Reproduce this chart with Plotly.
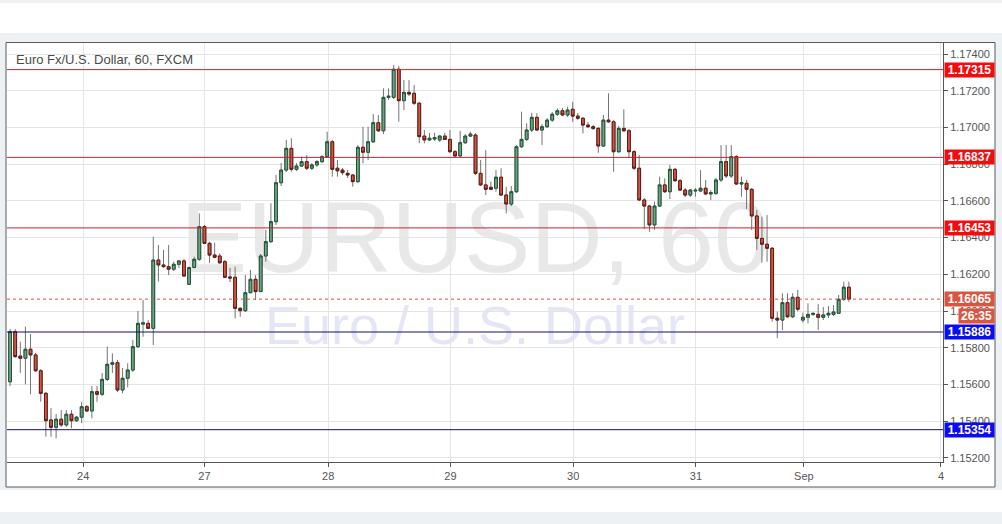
import plotly.graph_objects as go

# ---------------- data ----------------
bar_index = list(range(165))

open_ = [1.15615,1.15888,1.15755,1.15743,1.15792,1.15761,1.15675,1.15552,1.15407,1.15367,
         1.15411,1.15380,1.15438,1.15403,1.15422,1.15479,1.15456,1.15561,1.15547,1.15628,
         1.15710,1.15719,1.15570,1.15634,1.15679,1.15806,1.15929,1.15933,1.15906,1.16278,
         1.16251,1.16242,1.16228,1.16255,1.16273,1.16146,1.16237,1.16282,1.16460,1.16369,
         1.16305,1.16300,1.16269,1.16186,1.16184,1.16015,1.16002,1.16100,1.16173,1.16106,
         1.16300,1.16378,1.16487,1.16699,1.16768,1.16886,1.16772,1.16790,1.16814,1.16778,
         1.16796,1.16814,1.16841,1.16922,1.16778,1.16768,1.16750,1.16741,1.16705,1.16892,
         1.16865,1.16922,1.17026,1.16982,1.17164,1.17164,1.17317,1.17146,1.17191,1.17186,
         1.17132,1.16953,1.16932,1.16937,1.16932,1.16953,1.16935,1.16868,1.16845,1.16917,
         1.16953,1.16959,1.16750,1.16687,1.16674,1.16669,1.16729,1.16632,1.16583,1.16650,
         1.16895,1.16935,1.16986,1.17055,1.16986,1.17004,1.17040,1.17072,1.17091,1.17068,
         1.17099,1.17062,1.17050,1.17013,1.17004,1.16995,1.16899,1.17040,1.17031,1.16868,
         1.16995,1.16982,1.16868,1.16778,1.16605,1.16572,1.16469,1.16572,1.16687,1.16650,
         1.16772,1.16710,1.16659,1.16632,1.16654,1.16654,1.16669,1.16638,1.16641,1.16714,
         1.16814,1.16736,1.16841,1.16692,1.16696,1.16663,1.16518,1.16396,1.16364,1.16342,
         1.15961,1.15951,1.16046,1.15969,1.16075,1.15951,1.15966,1.15982,1.15982,1.15966,
         1.15979,1.15982,1.15988,1.16064,1.16130]

high = [1.15902,1.15902,1.15833,1.15915,1.15875,1.15772,1.15684,1.15559,1.15472,1.15439,
        1.15461,1.15461,1.15461,1.15429,1.15506,1.15488,1.15592,1.15592,1.15663,1.15806,
        1.15770,1.15734,1.15690,1.15716,1.15842,1.16000,1.16060,1.15951,1.16405,1.16360,
        1.16333,1.16360,1.16269,1.16278,1.16284,1.16242,1.16296,1.16532,1.16469,1.16378,
        1.16373,1.16314,1.16278,1.16235,1.16242,1.16022,1.16196,1.16224,1.16196,1.16311,
        1.16442,1.16587,1.16741,1.16806,1.16932,1.16941,1.16806,1.16841,1.16850,1.16806,
        1.16823,1.16850,1.16977,1.16932,1.16823,1.16779,1.16768,1.16746,1.16904,1.17004,
        1.17004,1.17073,1.17068,1.17213,1.17213,1.17340,1.17335,1.17258,1.17258,1.17231,
        1.17139,1.16986,1.16970,1.16971,1.16959,1.16970,1.16986,1.16877,1.16982,1.16964,
        1.16977,1.16968,1.16823,1.16877,1.16705,1.16768,1.16778,1.16677,1.16681,1.16904,
        1.17086,1.17023,1.17080,1.17077,1.17019,1.17051,1.17084,1.17104,1.17106,1.17113,
        1.17140,1.17079,1.17057,1.17030,1.17013,1.17002,1.17068,1.17186,1.17040,1.17008,
        1.17099,1.16992,1.16877,1.16850,1.16616,1.16578,1.16596,1.16732,1.16723,1.16796,
        1.16779,1.16719,1.16670,1.16665,1.16670,1.16768,1.16714,1.16659,1.16725,1.16904,
        1.16904,1.16904,1.16850,1.16732,1.16714,1.16670,1.16550,1.16514,1.16523,1.16349,
        1.15997,1.16097,1.16097,1.16097,1.16115,1.15991,1.16042,1.15995,1.16038,1.16022,
        1.16028,1.16033,1.16088,1.16160,1.16160]

low = [1.15592,1.15745,1.15664,1.15601,1.15547,1.15668,1.15506,1.15316,1.15316,1.15307,
       1.15369,1.15369,1.15362,1.15396,1.15389,1.15450,1.15416,1.15506,1.15537,1.15619,
       1.15663,1.15559,1.15552,1.15585,1.15668,1.15799,1.15860,1.15902,1.15815,1.16160,
       1.16235,1.16196,1.16218,1.16235,1.16186,1.16142,1.16235,1.16273,1.16365,1.16263,
       1.16289,1.16256,1.16180,1.16158,1.15960,1.15969,1.15995,1.16098,1.16060,1.16104,
       1.16269,1.16371,1.16469,1.16681,1.16757,1.16759,1.16763,1.16785,1.16768,1.16768,
       1.16785,1.16806,1.16834,1.16732,1.16732,1.16741,1.16725,1.16677,1.16697,1.16805,
       1.16823,1.16915,1.16975,1.16964,1.17150,1.17155,1.17031,1.17095,1.17171,1.17122,
       1.16914,1.16914,1.16926,1.16926,1.16921,1.16932,1.16861,1.16839,1.16839,1.16910,
       1.16948,1.16741,1.16681,1.16632,1.16659,1.16650,1.16627,1.16532,1.16572,1.16643,
       1.16888,1.16926,1.16975,1.16981,1.16904,1.16997,1.17030,1.17062,1.17062,1.17057,
       1.17031,1.17041,1.16968,1.16997,1.16986,1.16862,1.16894,1.17024,1.16759,1.16861,
       1.16975,1.16832,1.16768,1.16600,1.16447,1.16432,1.16442,1.16567,1.16643,1.16610,
       1.16703,1.16654,1.16621,1.16621,1.16623,1.16648,1.16632,1.16605,1.16632,1.16703,
       1.16725,1.16725,1.16687,1.16623,1.16556,1.16442,1.16333,1.16263,1.16269,1.15942,
       1.15852,1.15897,1.15962,1.15962,1.15999,1.15937,1.15933,1.15973,1.15897,1.15951,
       1.15962,1.15973,1.15984,1.16055,1.16050]

close = [1.15888,1.15752,1.15743,1.15792,1.15761,1.15675,1.15552,1.15403,1.15367,1.15411,
         1.15380,1.15438,1.15403,1.15422,1.15479,1.15456,1.15561,1.15547,1.15628,1.15710,
         1.15719,1.15570,1.15634,1.15679,1.15806,1.15933,1.15936,1.15906,1.16278,1.16251,
         1.16242,1.16228,1.16255,1.16273,1.16191,1.16237,1.16282,1.16460,1.16369,1.16305,
         1.16293,1.16263,1.16184,1.16180,1.16015,1.16002,1.16100,1.16173,1.16106,1.16300,
         1.16378,1.16487,1.16699,1.16768,1.16886,1.16772,1.16790,1.16814,1.16778,1.16796,
         1.16814,1.16841,1.16922,1.16772,1.16764,1.16754,1.16741,1.16705,1.16892,1.16865,
         1.16922,1.17026,1.16982,1.17164,1.17170,1.17317,1.17146,1.17191,1.17182,1.17132,
         1.16950,1.16932,1.16941,1.16945,1.16953,1.16935,1.16868,1.16845,1.16917,1.16953,
         1.16964,1.16750,1.16687,1.16663,1.16663,1.16729,1.16632,1.16583,1.16650,1.16895,
         1.16935,1.16986,1.17055,1.16986,1.17004,1.17040,1.17072,1.17091,1.17068,1.17095,
         1.17062,1.17050,1.17013,1.17004,1.16995,1.16899,1.17040,1.17031,1.16868,1.16995,
         1.16982,1.16868,1.16778,1.16605,1.16572,1.16469,1.16572,1.16687,1.16650,1.16772,
         1.16710,1.16659,1.16632,1.16659,1.16658,1.16669,1.16638,1.16645,1.16714,1.16814,
         1.16736,1.16841,1.16692,1.16699,1.16663,1.16518,1.16396,1.16364,1.16342,1.15961,
         1.15951,1.16046,1.15969,1.16075,1.16010,1.15966,1.15982,1.15987,1.15966,1.15979,
         1.15988,1.15995,1.16064,1.16130,1.16065]

day_tick_pos = [14.3, 38.0, 62.2, 86.1, 110.1, 134.1, 155.2, 182.0]
day_tick_labels = ["24", "27", "28", "29", "30", "31", "Sep", "4"]

price_ticks = [1.152, 1.154, 1.156, 1.158, 1.160, 1.162, 1.164, 1.166, 1.168, 1.170, 1.172, 1.174]

resistance_levels = [1.17315, 1.16837, 1.16453]
support_levels = [1.15886, 1.15354]
last_price = 1.16065
countdown = "26:35"

# ---------------- styling ----------------
FONT = "Liberation Sans, Arial, sans-serif"
UP_FILL, DN_FILL = "#6ba583", "#d75442"
UP_LINE, DN_LINE = "#225437", "#5b1a13"
WICK = "#737375"
RED_LINE, RED_BOX = "#c0282d", "#f20d0d"
BLUE_LINE, BLUE_BOX = "#10106e", "#0c0cf0"
LAST_COL = "#d9553f"
PAGE_BG = "#eef1f4"

W, H = 1002, 524
L, R, T, B = 7, 59, 43, 62
PW, PH = W - L - R, H - T - B


def px_x(px):
    return (px - L) / PW


def px_y(py):
    return (H - B - py) / PH


fig = go.Figure()

# wicks (full range, grey)
fig.add_trace(go.Candlestick(
    x=bar_index, open=open_, high=high, low=low, close=close,
    increasing=dict(line=dict(color=WICK, width=1), fillcolor=UP_FILL),
    decreasing=dict(line=dict(color=WICK, width=1), fillcolor=DN_FILL),
    whiskerwidth=0, hoverinfo="skip", showlegend=False,
))
# bodies with dark borders
body_hi = [max(o, c) for o, c in zip(open_, close)]
body_lo = [min(o, c) for o, c in zip(open_, close)]
fig.add_trace(go.Candlestick(
    x=bar_index, open=open_, high=body_hi, low=body_lo, close=close,
    increasing=dict(line=dict(color=UP_LINE, width=1), fillcolor=UP_FILL),
    decreasing=dict(line=dict(color=DN_LINE, width=1), fillcolor=DN_FILL),
    whiskerwidth=0, hoverinfo="skip", showlegend=False,
))

shapes = []
# page bands
shapes.append(dict(type="rect", xref="paper", yref="paper", layer="below",
                   x0=px_x(0), x1=px_x(W), y0=px_y(33), y1=px_y(3),
                   fillcolor="white", line=dict(width=0)))
shapes.append(dict(type="rect", xref="paper", yref="paper", layer="below",
                   x0=px_x(0), x1=px_x(W), y0=px_y(512), y1=px_y(490),
                   fillcolor="white", line=dict(width=0)))
# chart frame
shapes.append(dict(type="rect", xref="paper", yref="paper", layer="below",
                   x0=px_x(6), x1=px_x(995), y0=px_y(487), y1=px_y(42.5),
                   fillcolor="white", line=dict(color="#5a5a5a", width=1)))
# watermarks
shapes.append(dict(type="rect", xref="paper", yref="paper", layer="below",
                   x0=px_x(150), x1=px_x(800), y0=px_y(280), y1=px_y(175),
                   line=dict(width=0), fillcolor="rgba(0,0,0,0)",
                   label=dict(text="EURUSD, 60", textposition="middle center",
                              font=dict(family=FONT, size=100, color="#e8e8e8"))))
shapes.append(dict(type="rect", xref="paper", yref="paper", layer="below",
                   x0=px_x(200), x1=px_x(750), y0=px_y(350), y1=px_y(290),
                   line=dict(width=0), fillcolor="rgba(0,0,0,0)",
                   label=dict(text="Euro / U.S. Dollar", textposition="middle center",
                              font=dict(family=FONT, size=54, color="#e4e5f5"))))
# horizontal levels
for lv in resistance_levels:
    shapes.append(dict(type="line", xref="paper", yref="y", x0=0, x1=1, y0=lv, y1=lv,
                       line=dict(color=RED_LINE, width=1)))
for lv in support_levels:
    shapes.append(dict(type="line", xref="paper", yref="y", x0=0, x1=1, y0=lv, y1=lv,
                       line=dict(color=BLUE_LINE, width=1)))
shapes.append(dict(type="line", xref="paper", yref="y", x0=0, x1=1, y0=last_price, y1=last_price,
                   line=dict(color=LAST_COL, width=1, dash="dot")))

annotations = [dict(
    text="Euro Fx/U.S. Dollar, 60, FXCM", xref="paper", yref="paper",
    x=px_x(14), y=px_y(60), xanchor="left", yanchor="middle", showarrow=False,
    font=dict(family=FONT, size=13, color="#4a4a4a"))]


def price_label(val, col):
    return dict(text=f"{val:.5f}", xref="paper", yref="y", x=px_x(944), y=val,
                xanchor="left", yanchor="middle", showarrow=False, bgcolor=col,
                width=47, height=12, borderpad=1, align="center",
                font=dict(family=FONT, size=12, color="white", weight="bold"))


for lv in resistance_levels:
    annotations.append(price_label(lv, RED_BOX))
for lv in support_levels:
    annotations.append(price_label(lv, BLUE_BOX))
annotations.append(price_label(last_price, LAST_COL))
annotations.append(dict(text=countdown, xref="paper", yref="paper", x=px_x(958), y=px_y(316),
                        xanchor="left", yanchor="middle", showarrow=False, bgcolor=LAST_COL,
                        width=33, height=12, borderpad=1, align="center",
                        font=dict(family=FONT, size=12, color="white", weight="bold")))

fig.update_layout(
    width=W, height=H,
    margin=dict(l=L, r=R, t=T, b=B, pad=0),
    paper_bgcolor=PAGE_BG, plot_bgcolor="white",
    boxmode="overlay", boxgap=0.22,
    showlegend=False, hovermode=False,
    shapes=shapes, annotations=annotations,
    font=dict(family=FONT, size=11, color="#555555"),
    xaxis=dict(range=[-0.6, 182.4], tickvals=day_tick_pos, ticktext=day_tick_labels,
               showgrid=True, gridcolor="#e4e4e4", gridwidth=1,
               showline=True, linecolor="#555555", linewidth=1,
               ticks="outside", ticklen=4, tickcolor="#555555",
               tickfont=dict(family=FONT, size=11, color="#555555"),
               rangeslider=dict(visible=False), zeroline=False, fixedrange=True),
    yaxis=dict(side="right", range=[1.15178, 1.1746], tickvals=price_ticks,
               tickformat=".5f", showgrid=True, gridcolor="#e4e4e4", gridwidth=1,
               showline=True, linecolor="#555555", linewidth=1,
               ticks="outside", ticklen=4, tickcolor="#555555",
               tickfont=dict(family=FONT, size=11, color="#555555"),
               zeroline=False, fixedrange=True),
)

fig.write_html(
    "out.html",
    config={"displayModeBar": False},
    post_script=("document.body.style.margin='0';"
                 "document.body.style.padding='0';"
                 "document.body.style.background='" + PAGE_BG + "';"),
)
